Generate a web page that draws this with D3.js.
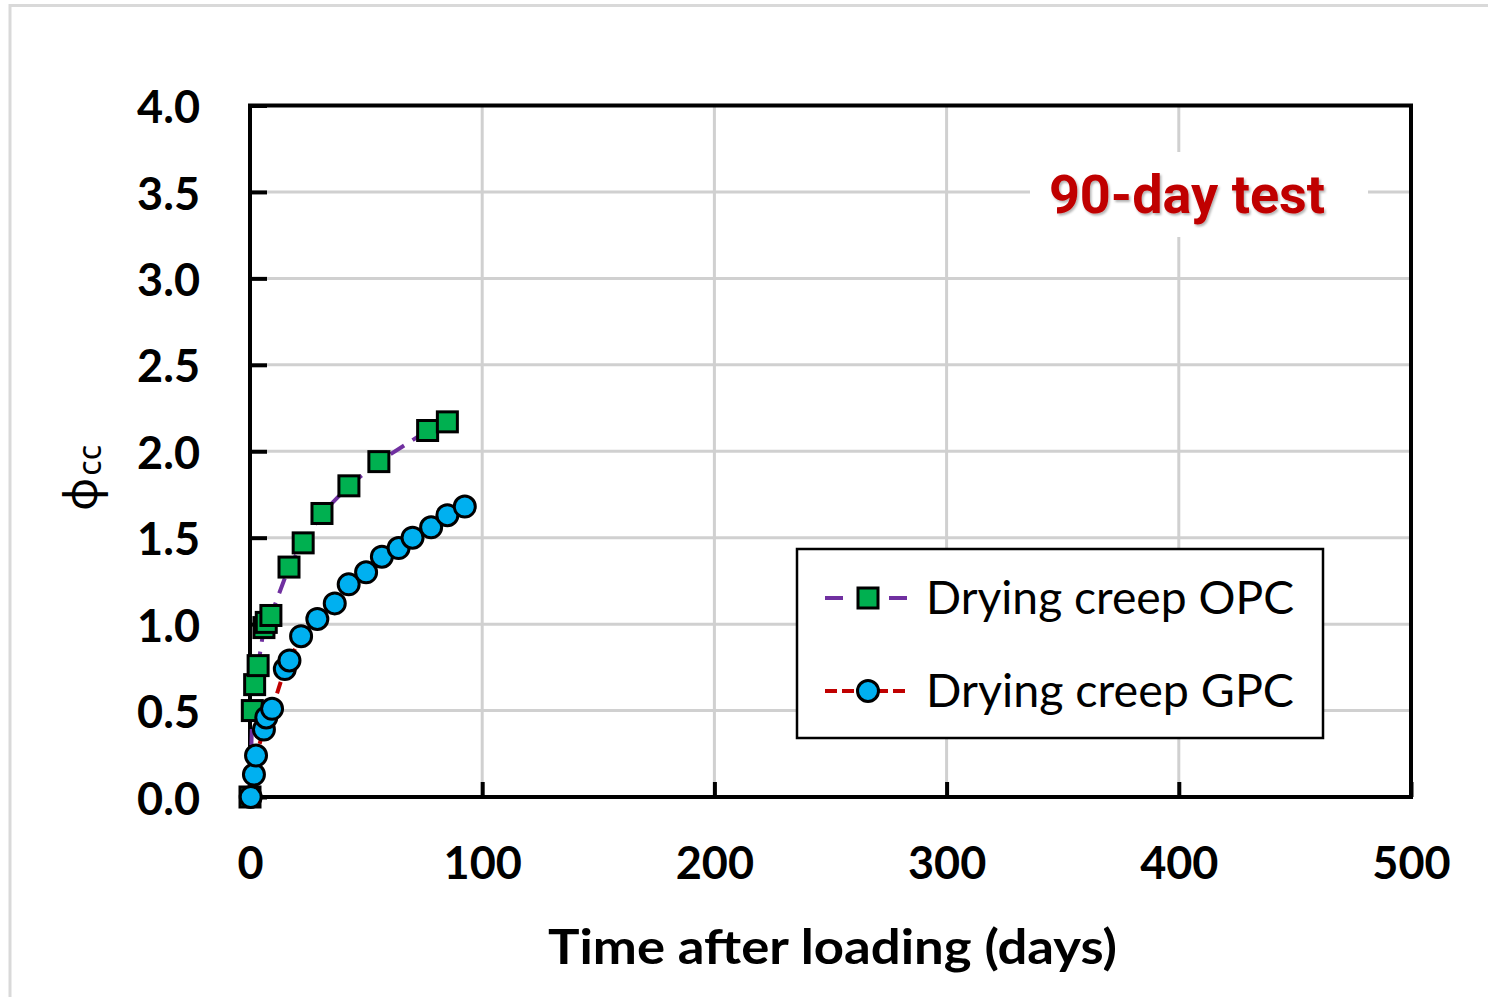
<!DOCTYPE html>
<html>
<head>
<meta charset="utf-8">
<script src="https://cdn.jsdelivr.net/npm/d3@7"></script>
<style>
  html, body { margin: 0; padding: 0; background: #fff; }
  svg { display: block; }
</style>
</head>
<body>
<svg id="chart" width="1488" height="997"></svg>
<script>
// drying creep coefficient
const opcDays = [0, 1, 2, 3.5, 6, 7, 9, 16.8, 22.9, 31, 42.6, 55.5, 76.5, 85];
const opcPhi = [0, 0.50, 0.65, 0.76, 0.98, 1.01, 1.05, 1.33, 1.47, 1.64, 1.80, 1.94, 2.12, 2.17];

const gpcDays = [0.3, 1.7, 2.6, 6, 7, 9.5, 15, 17, 22, 29, 36.5, 42.5, 50, 56.8, 64, 70, 78, 85, 92.5];
const gpcPhi = [0, 0.13, 0.24, 0.39, 0.46, 0.51, 0.74, 0.79, 0.93, 1.03, 1.12, 1.23, 1.30, 1.39, 1.44, 1.50, 1.56, 1.63, 1.68];

const xTicks = [0, 100, 200, 300, 400, 500];
const yTicks = [0, 0.5, 1.0, 1.5, 2.0, 2.5, 3.0, 3.5, 4.0];

const seriesNames = ['Drying creep OPC', 'Drying creep GPC'];

const svg = d3.select('#chart');

// outer frame
svg.append('rect')
  .attr('x', 10).attr('y', 5.5)
  .attr('width', 1600).attr('height', 1100)
  .attr('fill', 'none')
  .attr('stroke', '#d9d9d9')
  .attr('stroke-width', 3);

const plot = { left: 250, right: 1411, top: 105.5, bottom: 797 };
const x = d3.scaleLinear().domain([0, 500]).range([plot.left, plot.right]);
const y = d3.scaleLinear().domain([0, 4]).range([plot.bottom, plot.top]);

// gridlines
const grid = svg.append('g').attr('stroke', '#d0d0d0').attr('stroke-width', 3);
grid.selectAll('.hg')
  .data(yTicks.slice(1, -1))
  .join('line')
  .attr('class', 'hg')
  .attr('x1', plot.left).attr('x2', plot.right)
  .attr('y1', (d) => y(d)).attr('y2', (d) => y(d));
grid.selectAll('.vg')
  .data(xTicks.slice(1, -1))
  .join('line')
  .attr('class', 'vg')
  .attr('x1', (d) => x(d)).attr('x2', (d) => x(d))
  .attr('y1', plot.top).attr('y2', plot.bottom);

// label box for "90-day test"
const defs = svg.append('defs');
const shadow = defs.append('filter').attr('id', 'shadow')
  .attr('x', '-10%').attr('y', '-20%').attr('width', '130%').attr('height', '150%');
shadow.append('feDropShadow')
  .attr('dx', 1.5).attr('dy', 2).attr('stdDeviation', 1)
  .attr('flood-color', '#000').attr('flood-opacity', 0.3);

svg.append('rect')
  .attr('x', 1030).attr('y', 152)
  .attr('width', 338).attr('height', 85)
  .attr('fill', '#fff');
svg.append('text')
  .attr('x', 1187).attr('y', 213)
  .attr('text-anchor', 'middle')
  .attr('font-family', 'Roboto')
  .attr('font-weight', 'bold')
  .attr('font-size', 54)
  .attr('fill', '#c00000')
  .attr('filter', 'url(#shadow)')
  .text('90-day test');

// axes
const yAxis = d3.axisLeft(y)
  .tickValues(yTicks)
  .tickSize(-17)
  .tickPadding(50)
  .tickFormat(d3.format('.1f'));
const xAxis = d3.axisBottom(x)
  .tickValues(xTicks)
  .tickSize(-15)
  .tickPadding(50)
  .tickFormat(d3.format('d'));

const gy = svg.append('g').attr('transform', `translate(${plot.left},0)`).call(yAxis);
const gx = svg.append('g').attr('transform', `translate(0,${plot.bottom})`).call(xAxis);
[gx, gy].forEach((g) => {
  g.select('.domain').remove();
  g.selectAll('.tick line').attr('stroke', '#000').attr('stroke-width', 4);
  g.selectAll('.tick text')
    .attr('fill', '#000')
    .attr('font-family', 'Lato')
    .attr('font-weight', 'bold')
    .attr('font-size', 45);
});
gy.selectAll('.tick text').attr('dy', '0.38em');

// plot frame
svg.append('rect')
  .attr('x', plot.left).attr('y', plot.top)
  .attr('width', plot.right - plot.left).attr('height', plot.bottom - plot.top)
  .attr('fill', 'none')
  .attr('stroke', '#000')
  .attr('stroke-width', 4);

// axis titles
svg.append('text')
  .attr('x', 548).attr('y', 964)
  .attr('font-family', 'Lato')
  .attr('font-weight', 'bold')
  .attr('font-size', 48)
  .attr('textLength', 569)
  .attr('lengthAdjust', 'spacingAndGlyphs')
  .text('Time after loading (days)');

const yTitle = svg.append('text')
  .attr('transform', 'translate(97,511) rotate(-90)')
  .attr('font-family', 'Noto Sans')
  .attr('font-size', 46);
yTitle.append('tspan').text('φ');
yTitle.append('tspan').attr('dy', 4).attr('dx', 2).attr('font-size', 32).text('cc');

// series
const line = d3.line().x((d) => x(d[0])).y((d) => y(d[1]));
const opc = opcDays.map((d, i) => [d, opcPhi[i]]);
const gpc = gpcDays.map((d, i) => [d, gpcPhi[i]]);

function drawSquares(g, data, size) {
  g.selectAll('rect')
    .data(data)
    .join('rect')
    .attr('x', (d) => x(d[0]) - size / 2)
    .attr('y', (d) => y(d[1]) - size / 2)
    .attr('width', size).attr('height', size)
    .attr('fill', '#00b050')
    .attr('stroke', '#000')
    .attr('stroke-width', 3);
}

function drawCircles(g, data, r) {
  g.selectAll('circle')
    .data(data)
    .join('circle')
    .attr('cx', (d) => x(d[0]))
    .attr('cy', (d) => y(d[1]))
    .attr('r', r)
    .attr('fill', '#00b0f0')
    .attr('stroke', '#000')
    .attr('stroke-width', 3);
}

svg.append('path')
  .attr('d', line(opc))
  .attr('fill', 'none')
  .attr('stroke', '#7030a0')
  .attr('stroke-width', 4)
  .attr('stroke-dasharray', '16,10');
drawSquares(svg.append('g'), opc, 20);

svg.append('path')
  .attr('d', line(gpc))
  .attr('fill', 'none')
  .attr('stroke', '#c00000')
  .attr('stroke-width', 4)
  .attr('stroke-dasharray', '12,6');
drawCircles(svg.append('g'), gpc, 10.5);

// legend
const legend = svg.append('g');
legend.append('rect')
  .attr('x', 797).attr('y', 549)
  .attr('width', 526).attr('height', 189)
  .attr('fill', '#fff')
  .attr('stroke', '#000')
  .attr('stroke-width', 2.5);

const rowY = [598, 691];
const legendColors = ['#7030a0', '#c00000'];
const legendDash = ['18,14', '12,5'];

seriesNames.forEach((name, i) => {
  legend.append('line')
    .attr('x1', 825).attr('x2', 908)
    .attr('y1', rowY[i]).attr('y2', rowY[i])
    .attr('stroke', legendColors[i])
    .attr('stroke-width', 4)
    .attr('stroke-dasharray', legendDash[i]);
  if (i === 0) {
    legend.append('rect')
      .attr('x', 858).attr('y', rowY[i] - 10)
      .attr('width', 20).attr('height', 20)
      .attr('fill', '#00b050')
      .attr('stroke', '#000')
      .attr('stroke-width', 3);
  } else {
    legend.append('circle')
      .attr('cx', 868).attr('cy', rowY[i])
      .attr('r', 10.5)
      .attr('fill', '#00b0f0')
      .attr('stroke', '#000')
      .attr('stroke-width', 3);
  }
  legend.append('text')
    .attr('x', 926).attr('y', rowY[i] + 16)
    .attr('font-family', 'Lato')
    .attr('font-size', 46)
    .attr('textLength', 368)
    .attr('lengthAdjust', 'spacingAndGlyphs')
    .text(name);
});
</script>
</body>
</html>
